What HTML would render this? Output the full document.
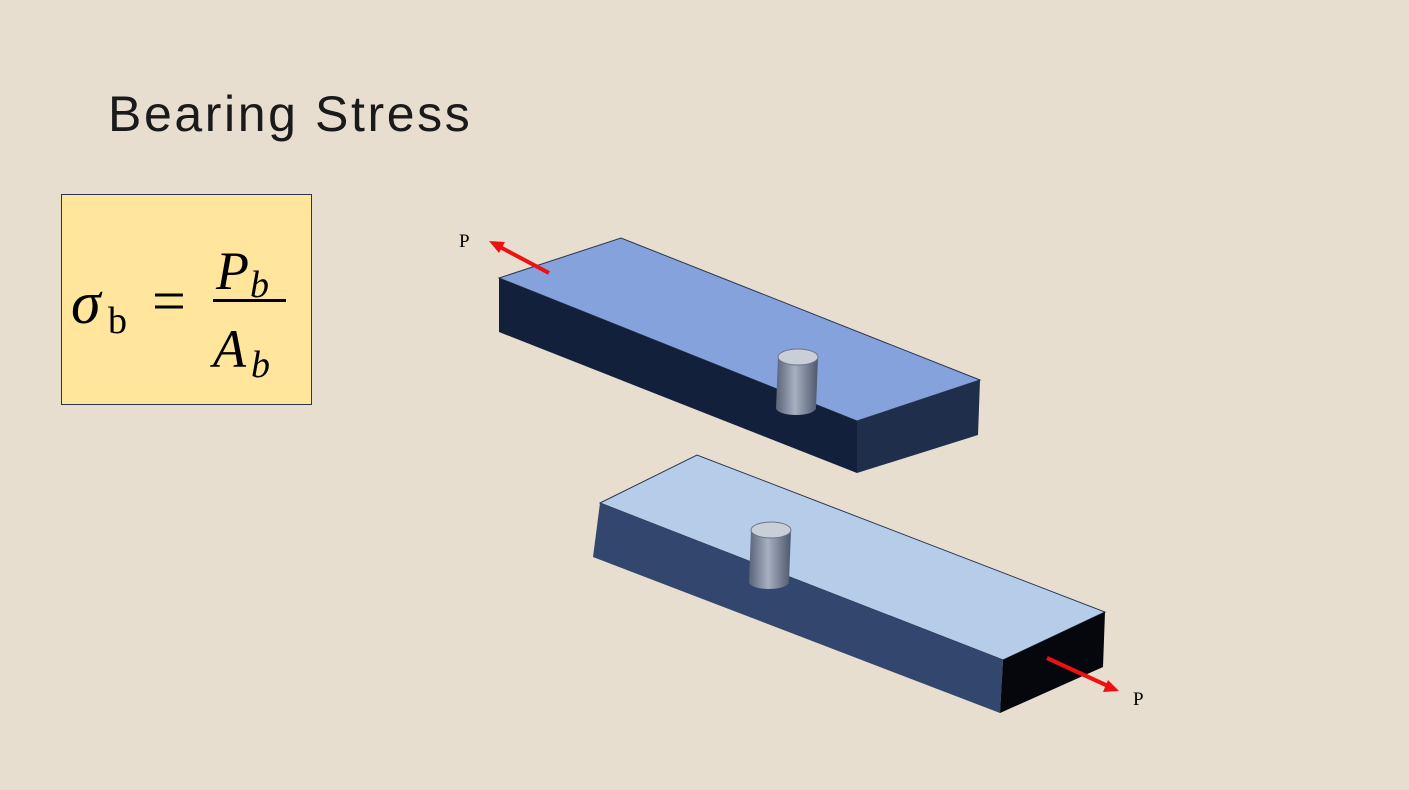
<!DOCTYPE html>
<html><head><meta charset="utf-8">
<style>
html,body{margin:0;padding:0;}
body{width:1409px;height:790px;background:#e7decf;position:relative;overflow:hidden;font-family:"Liberation Sans",sans-serif;}
#title{position:absolute;left:108px;top:85px;font-size:50px;color:#1a1a1a;letter-spacing:2.6px;}
#box{position:absolute;left:61px;top:194px;width:249px;height:209px;background:#ffe69c;border:1px solid #2a3550;}
</style></head>
<body>
<div id="title">Bearing Stress</div>
<div id="box">
<svg width="249" height="209">
<text x="9" y="128" font-family="Liberation Serif,serif" font-style="italic" font-size="60" fill="#000">σ</text>
<text x="46" y="138" font-family="Liberation Serif,serif" font-size="38" fill="#000">b</text>
<text x="90" y="126" font-family="Liberation Serif,serif" font-size="60" fill="#000">=</text>
<text x="154" y="94" font-family="Liberation Serif,serif" font-style="italic" font-size="54" fill="#000">P</text>
<text x="188" y="102" font-family="Liberation Serif,serif" font-style="italic" font-size="38" fill="#000">b</text>
<rect x="151" y="104" width="73" height="3" fill="#000"/>
<text x="151" y="172" font-family="Liberation Serif,serif" font-style="italic" font-size="54" fill="#000">A</text>
<text x="189" y="182" font-family="Liberation Serif,serif" font-style="italic" font-size="38" fill="#000">b</text>
</svg>
</div>
<svg width="1409" height="790" style="position:absolute;left:0;top:0">
<defs>
<linearGradient id="cyl" x1="0" x2="1" y1="0" y2="0">
<stop offset="0" stop-color="#5a6378"/><stop offset="0.45" stop-color="#a7b0c0"/><stop offset="1" stop-color="#4e586d"/>
</linearGradient>
</defs>
<g>
<polygon points="499,278 621,238 980,380 857,421" fill="#85a2dc" stroke="#2a3550" stroke-width="1"/>
<polygon points="499,278 857,421 857,473 499,332" fill="#12203c"/>
<polygon points="857,421 980,380 978,435 857,473" fill="#1f2e4a"/>
</g>
<g>
<path d="M778,357 L776,408 A20,7 0 0 0 816,408 L818,357 Z" fill="url(#cyl)"/>
<ellipse cx="798" cy="357" rx="20" ry="8" fill="#c9ced8" stroke="#6a7386"/>
</g>
<g>
<polygon points="600,503 697,455 1105,612 1003,660" fill="#b6cdea" stroke="#2a3550" stroke-width="1"/>
<polygon points="600,503 1003,660 1000,713 593,557" fill="#33466d"/>
<polygon points="1003,660 1105,612 1103,667 1000,713" fill="#05070c"/>
</g>
<g>
<path d="M751,530 L749,582 A20,7 0 0 0 789,582 L791,530 Z" fill="url(#cyl)"/>
<ellipse cx="771" cy="530" rx="20" ry="8" fill="#c9ced8" stroke="#6a7386"/>
</g>
<g>
<line x1="549" y1="273" x2="500" y2="247" stroke="#ee1111" stroke-width="4"/>
<polygon points="489,241 505,242 499,253" fill="#ee1111"/>
</g>
<text x="459" y="247" font-family="Liberation Serif,serif" font-size="19" fill="#000">P</text>
<g>
<line x1="1047" y1="658" x2="1108" y2="686" stroke="#ee1111" stroke-width="4"/>
<polygon points="1119,691 1103,692 1108,680" fill="#ee1111"/>
</g>
<text x="1133" y="705" font-family="Liberation Serif,serif" font-size="19" fill="#000">P</text>
</svg>
</body></html>
